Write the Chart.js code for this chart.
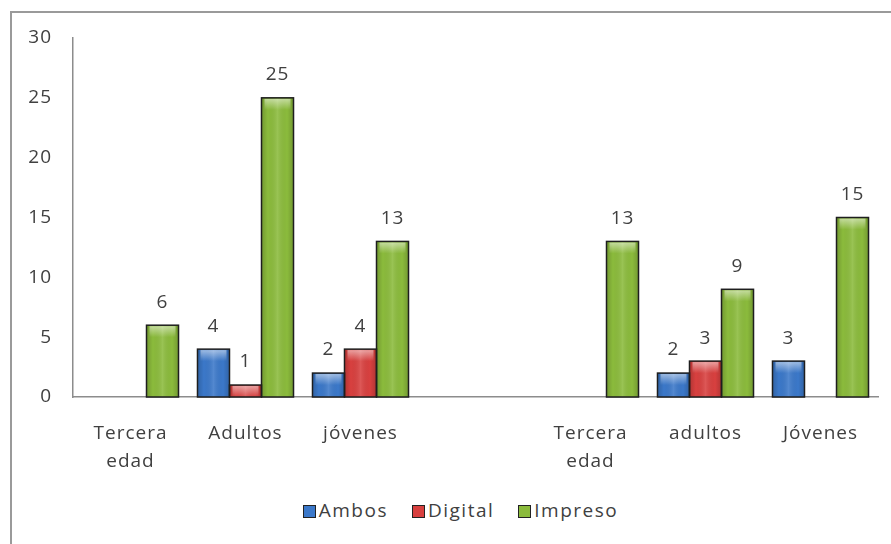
<!DOCTYPE html>
<html>
<head>
<meta charset="utf-8">
<script src="https://cdn.jsdelivr.net/npm/chart.js@4.4.1/dist/chart.umd.min.js"></script>
<style>
  html, body { margin: 0; padding: 0; background: #fff; }
  body { width: 891px; height: 544px; position: relative; overflow: hidden; font-family: 'Open Sans', sans-serif; }
  #marco { position: absolute; left: 10px; top: 11px; width: 900px; height: 560px;
           border-left: 2px solid #9a9a9a; border-top: 2px solid #9a9a9a; }
  #grafico { position: absolute; left: 0; top: 0; }
  #leyenda { position: absolute; left: 15px; top: 497px; width: 891px; text-align: center;
             font-size: 19px; letter-spacing: 1.5px; color: #404040; }
  #leyenda span.item { display: inline-block; margin: 0 12px; }
  #leyenda span.caja { display: inline-block; width: 11px; height: 11px; border: 1px solid #222;
                       margin-right: 3px; vertical-align: -1px; }
</style>
</head>
<body>
<div id="marco"></div>
<canvas id="grafico" width="891" height="480"></canvas>
<div id="leyenda"></div>
<script>
// Categorías del eje X (la cuarta queda vacía para separar los dos grupos)
const categorias = [['Tercera', 'edad'], 'Adultos', 'jóvenes', '', ['Tercera', 'edad'], 'adultos', 'Jóvenes'];
// Valores de cada serie
const ambos = [null, 4, 2, null, null, 2, 3];
const digital = [null, 1, 4, null, null, 3, null];
const impreso = [6, 25, 13, null, 13, 9, 15];
const series = ['Ambos', 'Digital', 'Impreso'];
const colores = ['#3b78c9', '#d8403f', '#8bbb3c'];

// Texto un poco espaciado, como en la hoja original
const espaciado = {
    id: 'espaciado',
    beforeDraw(chart) { chart.ctx.letterSpacing = '1px'; }
};

// Brillo tipo Excel encima de cada barra + borde oscuro
const brilloBarras = {
    id: 'brilloBarras',
    afterDatasetsDraw(chart) {
        const ctx = chart.ctx;
        chart.data.datasets.forEach((ds, i) => {
            const meta = chart.getDatasetMeta(i);
            meta.data.forEach((bar, j) => {
                if (ds.data[j] == null) return;
                const { x, y, base, width } = bar.getProps(['x', 'y', 'base', 'width'], true);
                const left = x - width / 2, h = base - y;
                ctx.save();
                // sombreado horizontal: bordes más oscuros
                let g = ctx.createLinearGradient(left, 0, left + width, 0);
                g.addColorStop(0, 'rgba(0,0,0,0.18)');
                g.addColorStop(0.2, 'rgba(0,0,0,0)');
                g.addColorStop(0.5, 'rgba(255,255,255,0.12)');
                g.addColorStop(0.8, 'rgba(0,0,0,0)');
                g.addColorStop(1, 'rgba(0,0,0,0.18)');
                ctx.fillStyle = g;
                ctx.fillRect(left, y, width, h);
                // reflejo claro en la parte superior
                const hh = Math.min(12, h);
                g = ctx.createLinearGradient(0, y, 0, y + hh);
                g.addColorStop(0, 'rgba(255,255,255,0.55)');
                g.addColorStop(1, 'rgba(255,255,255,0)');
                ctx.fillStyle = g;
                ctx.fillRect(left + 3, y + 1, width - 6, hh);
                ctx.strokeStyle = '#1e1e1e';
                ctx.lineWidth = 1.5;
                ctx.strokeRect(left, y, width, h);
                ctx.restore();
            });
        });
    }
};

// Etiquetas con el valor encima de cada barra
const etiquetasValor = {
    id: 'etiquetasValor',
    afterDatasetsDraw(chart) {
        const ctx = chart.ctx;
        ctx.save();
        ctx.font = '19px "Open Sans"';
        ctx.fillStyle = '#404040';
        ctx.textAlign = 'center';
        ctx.textBaseline = 'middle';
        chart.data.datasets.forEach((ds, i) => {
            chart.getDatasetMeta(i).data.forEach((bar, j) => {
                const v = ds.data[j];
                if (v == null) return;
                ctx.fillText(String(v), bar.x, bar.y - 23);
            });
        });
        ctx.restore();
    }
};

const datos = [ambos, digital, impreso];

const chart = new Chart(document.getElementById('grafico'), {
    type: 'bar',
    data: {
        labels: categorias,
        datasets: series.map((nombre, i) => ({
            label: nombre,
            data: datos[i],
            backgroundColor: colores[i],
            borderColor: '#1e1e1e',
            borderWidth: 0,
            categoryPercentage: 0.835,
            barPercentage: 1
        }))
    },
    options: {
        responsive: false,
        animation: false,
        layout: { padding: { top: 38, right: 13, bottom: 0, left: 0 } },
        plugins: {
            legend: { display: false },
            tooltip: { enabled: false }
        },
        scales: {
            x: {
                grid: { display: false },
                border: { color: '#8c8c8c', width: 1.5 },
                ticks: {
                    color: '#404040',
                    font: { family: 'Open Sans', size: 19, lineHeight: 1.45 },
                    padding: 15,
                    maxRotation: 0,
                    autoSkip: false
                },
                afterFit(axis) { axis.height = 83; }
            },
            y: {
                min: 0,
                max: 30,
                grid: { display: false },
                border: { color: '#8c8c8c', width: 1.5 },
                ticks: {
                    stepSize: 5,
                    color: '#404040',
                    font: { family: 'Open Sans', size: 19 },
                    padding: 13
                },
                afterFit(axis) { axis.width = 73; }
            }
        }
    },
    plugins: [espaciado, brilloBarras, etiquetasValor]
});

// Leyenda en HTML a partir de las series del gráfico
const leyenda = document.getElementById('leyenda');
chart.data.datasets.forEach(ds => {
    const item = document.createElement('span');
    item.className = 'item';
    item.innerHTML = `<span class="caja" style="background:${ds.backgroundColor}"></span>${ds.label}`;
    leyenda.appendChild(item);
});
</script>
</body>
</html>
